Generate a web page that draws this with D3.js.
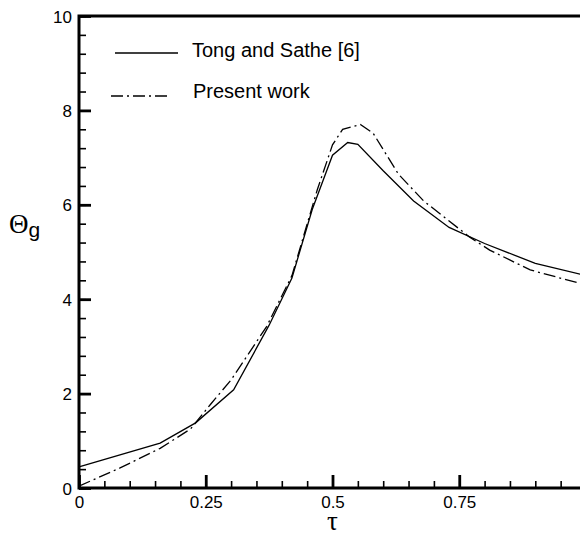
<!DOCTYPE html>
<html>
<head>
<meta charset="utf-8">
<script src="https://cdn.jsdelivr.net/npm/d3@7"></script>
<style>
  body { margin: 0; background: #fff; }
  svg { display: block; }
  text { font-family: "Liberation Sans", Arial, sans-serif; fill: #000; }
</style>
</head>
<body>
<div id="chart"></div>
<script>
// Tong and Sathe [6] (solid)
const tauTong = [0, 0.16, 0.23, 0.305, 0.375, 0.42, 0.46, 0.50, 0.53, 0.55, 0.60, 0.66, 0.73, 0.80, 0.90, 1.0];
const thetaTong = [0.45, 0.95, 1.38, 2.08, 3.45, 4.45, 5.9, 7.05, 7.32, 7.28, 6.72, 6.08, 5.52, 5.18, 4.76, 4.5];

// Present work (dash-dot)
const tauPresent = [0, 0.08, 0.16, 0.22, 0.26, 0.30, 0.37, 0.42, 0.47, 0.50, 0.52, 0.555, 0.58, 0.63, 0.68, 0.77, 0.81, 0.89, 1.0];
const thetaPresent = [0.04, 0.42, 0.84, 1.25, 1.78, 2.29, 3.42, 4.5, 6.32, 7.27, 7.6, 7.70, 7.52, 6.65, 6.08, 5.32, 5.04, 4.62, 4.30];

const xTicks = [0, 0.25, 0.5, 0.75];
const xTickLabels = ["0", "0.25", "0.5", "0.75"];
const yTicks = [0, 2, 4, 6, 8, 10];

const W = 580, H = 537;
const mLeft = 79, mRight = 586, mTop = 16, mBottom = 488;

const svg = d3.select("#chart").append("svg")
    .attr("width", W)
    .attr("height", H);

const x = d3.scaleLinear().domain([0, 1]).range([mLeft, mRight]);
const y = d3.scaleLinear().domain([0, 10]).range([mBottom, mTop]);

// minor ticks
svg.append("g")
    .attr("transform", `translate(0,${mBottom})`)
    .call(d3.axisBottom(x).tickValues(d3.range(0, 1.001, 0.05)).tickSize(-7).tickFormat(""))
    .call(g => g.select(".domain").remove())
    .call(g => g.selectAll("line").attr("stroke-width", 1.6));
svg.append("g")
    .attr("transform", `translate(${mLeft},0)`)
    .call(d3.axisLeft(y).tickValues(d3.range(0, 10.001, 0.4)).tickSize(-7).tickFormat(""))
    .call(g => g.select(".domain").remove())
    .call(g => g.selectAll("line").attr("stroke-width", 1.6));

// major ticks
svg.append("g")
    .attr("transform", `translate(0,${mBottom})`)
    .call(d3.axisBottom(x).tickValues(xTicks).tickSize(-13).tickPadding(0)
        .tickFormat((d, i) => xTickLabels[i]))
    .call(g => g.select(".domain").remove())
    .call(g => g.selectAll("line").attr("stroke-width", 2.8))
    .call(g => g.selectAll("text")
        .attr("y", 20).attr("dy", 0)
        .style("font-size", "17px")
        .style("font-family", "'Liberation Sans', Arial, sans-serif"));
svg.append("g")
    .attr("transform", `translate(${mLeft},0)`)
    .call(d3.axisLeft(y).tickValues(yTicks).tickSize(-12).tickFormat(d3.format("d")))
    .call(g => g.select(".domain").remove())
    .call(g => g.selectAll("line").attr("stroke-width", 2.8))
    .call(g => g.selectAll("text")
        .attr("x", -7).attr("dy", "0.36em")
        .style("font-size", "17px")
        .style("font-family", "'Liberation Sans', Arial, sans-serif"));

// frame: left, bottom, top
svg.append("path")
    .attr("d", `M${W + 5},${mTop}H${mLeft}V${mBottom}H${W + 5}`)
    .attr("fill", "none")
    .attr("stroke", "#000")
    .attr("stroke-width", 3);

// data lines
const line = d3.line().x(d => x(d[0])).y(d => y(d[1]));
svg.append("path")
    .datum(tauTong.map((t, i) => [t, thetaTong[i]]))
    .attr("d", line)
    .attr("fill", "none")
    .attr("stroke", "#000")
    .attr("stroke-width", 1.3);
svg.append("path")
    .datum(tauPresent.map((t, i) => [t, thetaPresent[i]]))
    .attr("d", line)
    .attr("fill", "none")
    .attr("stroke", "#000")
    .attr("stroke-width", 1.3)
    .attr("stroke-dasharray", "12,4,2,4");

// legend
svg.append("line").attr("x1", 115).attr("x2", 178).attr("y1", 53).attr("y2", 53)
    .attr("stroke", "#000").attr("stroke-width", 1.3);
svg.append("text").attr("x", 192).attr("y", 57).style("font-size", "20px")
    .text("Tong and Sathe [6]");
svg.append("line").attr("x1", 111).attr("x2", 171).attr("y1", 96).attr("y2", 96)
    .attr("stroke", "#000").attr("stroke-width", 1.3)
    .attr("stroke-dasharray", "12,4,2,4");
svg.append("text").attr("x", 193).attr("y", 98).style("font-size", "20px")
    .text("Present work");

// axis titles
svg.append("text")
    .attr("x", x(0.5)).attr("y", 530)
    .attr("text-anchor", "middle")
    .style("font-family", "'Liberation Serif', 'DejaVu Serif', serif")
    .style("font-size", "27px")
    .text("τ");
const yt = svg.append("text").attr("x", 9).attr("y", 233);
yt.append("tspan")
    .style("font-family", "'Liberation Serif', 'DejaVu Serif', serif")
    .style("font-size", "27px")
    .text("Θ");
yt.append("tspan")
    .attr("dy", 4)
    .style("font-size", "21px")
    .text("g");
</script>
</body>
</html>
